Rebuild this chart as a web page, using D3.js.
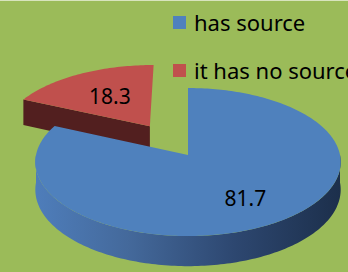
<!DOCTYPE html>
<html>
<head>
<meta charset="utf-8">
<script src="https://cdn.jsdelivr.net/npm/d3@7"></script>
<style>
  html, body { margin: 0; padding: 0; background: #fff; }
  svg { display: block; }
</style>
</head>
<body>
<div id="chart"></div>
<script>
// data
const categories = ["has source", "it has no source"];
const values = [81.7, 18.3];
const colors = ["#4f81bd", "#c0504d"];
const sideColors = ["url(#blueSide)", "#521f1f"];
const exploded = [0, 0.48];

const W = 348, H = 272;
const cx = 188, cy = 155, RX = 152, RY = 74, k = 0.095, D = 27.5;

const svg = d3.select("#chart").append("svg")
  .attr("width", W).attr("height", H);

const defs = svg.append("defs");
const grad = defs.append("linearGradient")
  .attr("id", "blueSide")
  .attr("gradientUnits", "userSpaceOnUse")
  .attr("x1", 37).attr("x2", 341).attr("y1", 0).attr("y2", 0);
[[0, "#4e7dba"], [0.3, "#44699b"], [0.65, "#2d4770"], [1, "#1c2f4b"]].forEach(s => {
  grad.append("stop").attr("offset", s[0]).attr("stop-color", s[1]);
});

svg.append("rect").attr("width", W).attr("height", H).attr("fill", "#9bbb59");
svg.append("rect").attr("width", W).attr("height", 1).attr("fill", "#d8e4bd");

// projection of pie plane coords (u right, v towards viewer) and depth z
function proj(u, v, z) {
  const s = 1 + k * v;
  return [cx + RX * u * s, cy + RY * v * s + D * z * s];
}

const pie = d3.pie().sort(null).value(d => d);
const arcs = pie(values);

function rim(a, off) {
  return [off[0] + Math.sin(a), off[1] - Math.cos(a)];
}

function sample(a0, a1) {
  const n = Math.max(2, Math.ceil(Math.abs(a1 - a0) / 0.02));
  return d3.range(n + 1).map(i => a0 + (a1 - a0) * i / n);
}

const line = d3.line();
const g = svg.append("g");

// draw the exploded (back) slice first, then the big one in front
const order = [1, 0];
order.forEach(i => {
  const d = arcs[i];
  const mid = (d.startAngle + d.endAngle) / 2;
  const off = [exploded[i] * Math.sin(mid), -exploded[i] * Math.cos(mid)];
  const angs = sample(d.startAngle, d.endAngle);

  // radial face at start angle (visible for the red slice)
  if (exploded[i] > 0) {
    const p = rim(d.startAngle, off);
    g.append("path")
      .attr("d", line([proj(off[0], off[1], 0), proj(p[0], p[1], 0), proj(p[0], p[1], 1), proj(off[0], off[1], 1)]) + "Z")
      .attr("fill", sideColors[i]);
  }

  // outer side, front half only
  const lo = Math.max(d.startAngle, Math.PI / 2), hi = Math.min(d.endAngle, 3 * Math.PI / 2);
  if (hi > lo) {
    const sa = sample(lo, hi);
    const top = sa.map(a => { const p = rim(a, off); return proj(p[0], p[1], 0); });
    const bot = sa.slice().reverse().map(a => { const p = rim(a, off); return proj(p[0], p[1], 1); });
    g.append("path").attr("d", line(top.concat(bot)) + "Z").attr("fill", sideColors[i]);
  }

  // top face
  const pts = [proj(off[0], off[1], 0)].concat(angs.map(a => { const p = rim(a, off); return proj(p[0], p[1], 0); }));
  g.append("path").attr("d", line(pts) + "Z").attr("fill", colors[i]);
});

// value labels
const labelR = [0.66, 0.55];
arcs.forEach((d, i) => {
  const mid = (d.startAngle + d.endAngle) / 2;
  const off = [exploded[i] * Math.sin(mid), -exploded[i] * Math.cos(mid)];
  const p = proj(off[0] + labelR[i] * Math.sin(mid), off[1] - labelR[i] * Math.cos(mid), 0);
  g.append("text")
    .attr("x", p[0]).attr("y", p[1])
    .attr("text-anchor", "middle")
    .attr("dominant-baseline", "central")
    .attr("font-family", "Noto Sans, sans-serif")
    .attr("font-size", 21)
    .attr("fill", "#000")
    .text(values[i]);
});

// legend
const legend = svg.append("g").attr("transform", "translate(173,16)");
categories.forEach((c, i) => {
  const row = legend.append("g").attr("transform", `translate(0,${i * 48})`);
  row.append("rect").attr("width", 13).attr("height", 13).attr("fill", colors[i]);
  row.append("text")
    .attr("x", 21).attr("y", 15)
    .attr("font-family", "Noto Sans, sans-serif")
    .attr("font-size", 22)
    .attr("fill", "#000")
    .text(c);
});
</script>
</body>
</html>
